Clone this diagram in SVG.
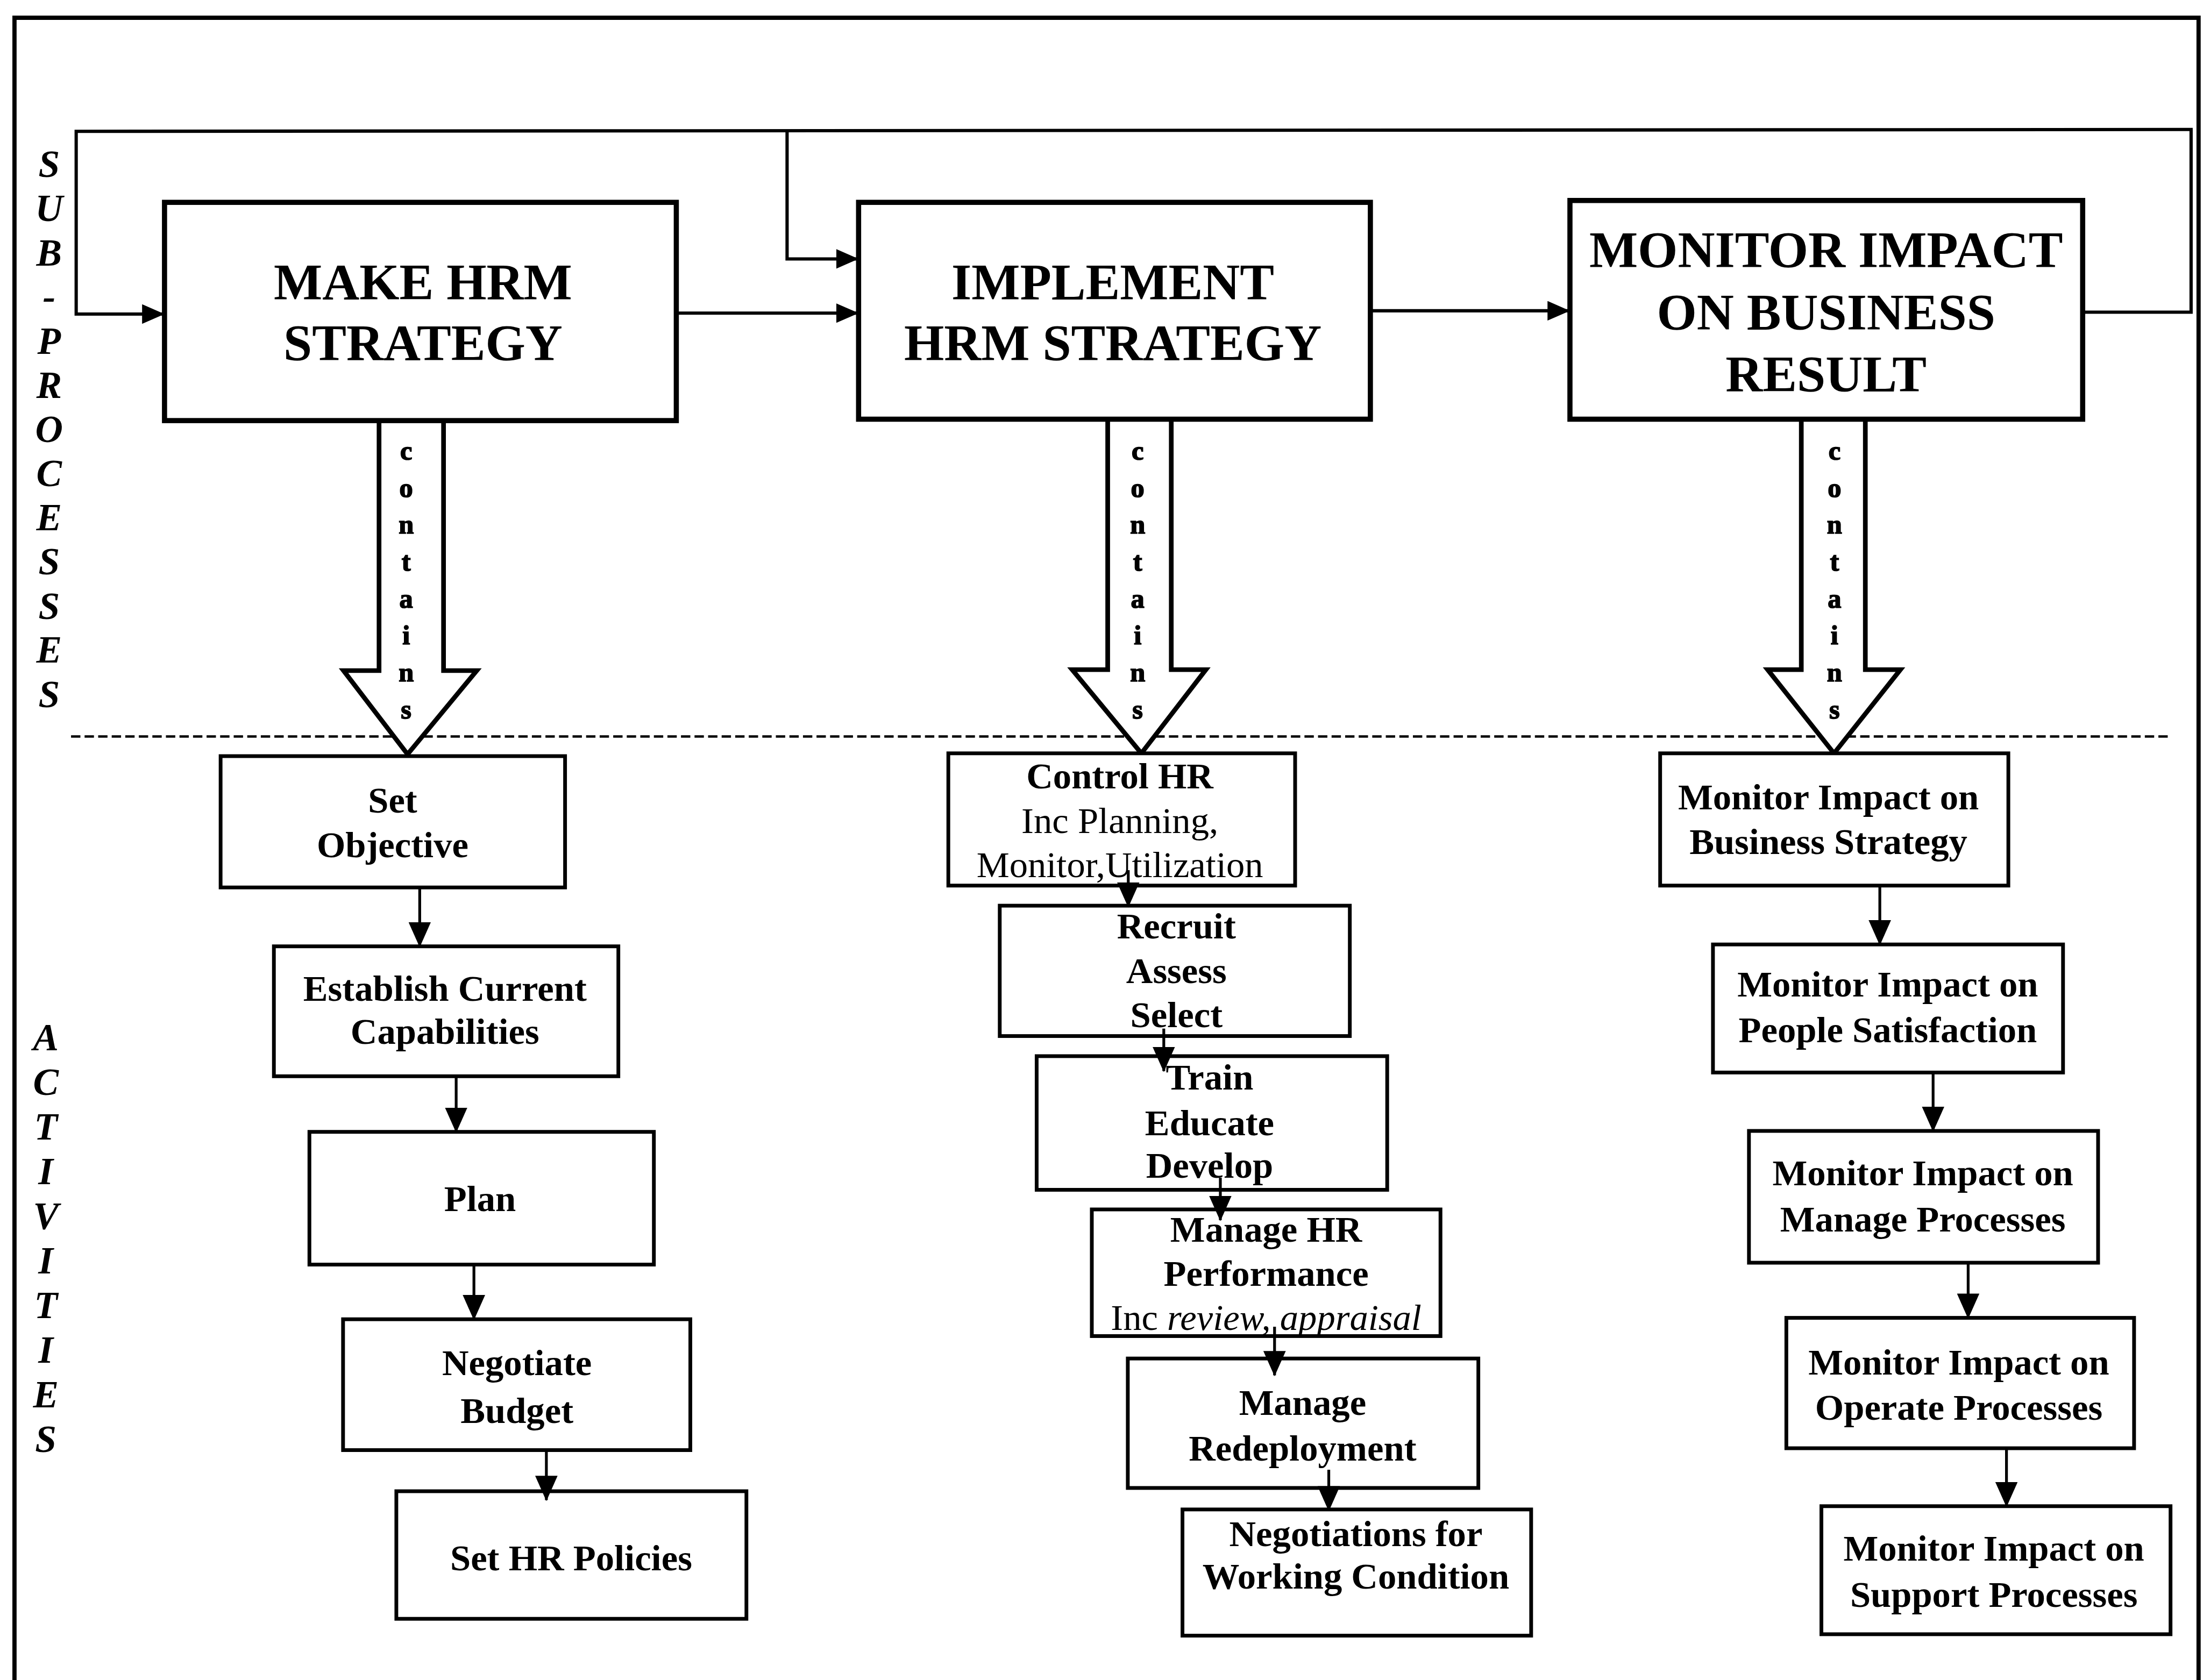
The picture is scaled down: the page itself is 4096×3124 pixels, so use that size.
<svg xmlns="http://www.w3.org/2000/svg" width="4096" height="3124" viewBox="0 0 4096 3124">
  <defs>
    <style>
      .frame { fill: none; stroke: #000; stroke-width: 9; }
      .main { fill: #fff; stroke: #000; stroke-width: 11; }
      .act { fill: #fff; stroke: #000; stroke-width: 8; }
      .wire { fill: none; stroke: #000; stroke-width: 7; }
      .flow { fill: none; stroke: #000; stroke-width: 6; }
      .dash { fill: none; stroke: #000; stroke-width: 5; stroke-dasharray: 20 9; }
      .block { fill: #fff; stroke: #000; stroke-width: 10; stroke-linejoin: miter; }
      .title { font-family: "Liberation Serif", "Times New Roman", serif; font-weight: bold; font-size: 110px; text-anchor: middle; fill: #000; }
      .lbl { font-family: "Liberation Serif", "Times New Roman", serif; font-weight: bold; font-size: 79px; text-anchor: middle; fill: #000; }
      .lblr { font-family: "Liberation Serif", "Times New Roman", serif; font-weight: normal; font-size: 79px; text-anchor: middle; fill: #000; }
      .side { font-family: "Liberation Serif", "Times New Roman", serif; font-weight: bold; font-style: italic; font-size: 82px; text-anchor: middle; fill: #000; }
      .tiny { font-family: "Liberation Serif", "Times New Roman", serif; font-weight: bold; font-size: 58px; text-anchor: middle; fill: #000; stroke: #000; stroke-width: 2; }
    </style>
    <marker id="head" markerUnits="userSpaceOnUse" markerWidth="48" markerHeight="42" viewBox="0 0 48 42" refX="46" refY="21" orient="auto">
      <path d="M0,0 L48,21 L0,42 Z" fill="#000"/>
    </marker>
    <marker id="headSmall" markerUnits="userSpaceOnUse" markerWidth="54" markerHeight="48" viewBox="0 0 54 48" refX="52" refY="24" orient="auto">
      <path d="M0,0 L54,24 L0,48 Z" fill="#000"/>
    </marker>
  </defs>

  <g transform="scale(0.869)">
    <rect x="0" y="0" width="4714" height="3595" fill="#fff"/>

    <!-- outer frame (open at the bottom) -->
    <path class="frame" d="M31,3600 L31,38 L4704,38 L4704,3600"/>

    <!-- side captions -->
    <g id="caption-subprocesses">
      <text class="side" x="105" y="379">S</text>
      <text class="side" x="105" y="473">U</text>
      <text class="side" x="105" y="568">B</text>
      <text class="side" x="105" y="662">-</text>
      <text class="side" x="105" y="757">P</text>
      <text class="side" x="105" y="851">R</text>
      <text class="side" x="105" y="946">O</text>
      <text class="side" x="105" y="1040">C</text>
      <text class="side" x="105" y="1135">E</text>
      <text class="side" x="105" y="1229">S</text>
      <text class="side" x="105" y="1324">S</text>
      <text class="side" x="105" y="1418">E</text>
      <text class="side" x="105" y="1513">S</text>
    </g>
    <g id="caption-activities">
      <text class="side" x="98" y="2247">A</text>
      <text class="side" x="98" y="2343">C</text>
      <text class="side" x="98" y="2438">T</text>
      <text class="side" x="98" y="2534">I</text>
      <text class="side" x="98" y="2629">V</text>
      <text class="side" x="98" y="2725">I</text>
      <text class="side" x="98" y="2821">T</text>
      <text class="side" x="98" y="2916">I</text>
      <text class="side" x="98" y="3012">E</text>
      <text class="side" x="98" y="3107">S</text>
    </g>

    <!-- boundary between sub-processes and activities -->
    <line class="dash" x1="152" y1="1576" x2="4646" y2="1576"/>

    <!-- "contains" block arrows -->
    <g id="contains-make">
      <path class="block" d="M811,900 L811,1435 L735,1435 L872,1614 L1020,1435 L949,1435 L949,900"/>
      <text class="tiny" x="869" y="984">c</text>
      <text class="tiny" x="869" y="1063">o</text>
      <text class="tiny" x="869" y="1142">n</text>
      <text class="tiny" x="869" y="1221">t</text>
      <text class="tiny" x="869" y="1300">a</text>
      <text class="tiny" x="869" y="1379">i</text>
      <text class="tiny" x="869" y="1458">n</text>
      <text class="tiny" x="869" y="1537">s</text>
    </g>
    <g id="contains-implement">
      <path class="block" d="M2370,897 L2370,1433 L2294,1433 L2442,1612 L2580,1433 L2506,1433 L2506,897"/>
      <text class="tiny" x="2434" y="984">c</text>
      <text class="tiny" x="2434" y="1063">o</text>
      <text class="tiny" x="2434" y="1142">n</text>
      <text class="tiny" x="2434" y="1221">t</text>
      <text class="tiny" x="2434" y="1300">a</text>
      <text class="tiny" x="2434" y="1379">i</text>
      <text class="tiny" x="2434" y="1458">n</text>
      <text class="tiny" x="2434" y="1537">s</text>
    </g>
    <g id="contains-monitor">
      <path class="block" d="M3854,897 L3854,1433 L3782,1433 L3924,1612 L4066,1433 L3991,1433 L3991,897"/>
      <text class="tiny" x="3925" y="984">c</text>
      <text class="tiny" x="3925" y="1063">o</text>
      <text class="tiny" x="3925" y="1142">n</text>
      <text class="tiny" x="3925" y="1221">t</text>
      <text class="tiny" x="3925" y="1300">a</text>
      <text class="tiny" x="3925" y="1379">i</text>
      <text class="tiny" x="3925" y="1458">n</text>
      <text class="tiny" x="3925" y="1537">s</text>
    </g>

    <!-- sub-processes -->
    <g id="make-hrm-strategy">
      <rect class="main" x="352" y="433" width="1095" height="467"/>
      <text class="title" x="905" y="641">MAKE HRM</text>
      <text class="title" x="905" y="771">STRATEGY</text>
    </g>
    <g id="implement-hrm-strategy">
      <rect class="main" x="1837" y="433" width="1095" height="464"/>
      <text class="title" x="2381" y="641">IMPLEMENT</text>
      <text class="title" x="2381" y="771">HRM STRATEGY</text>
    </g>
    <g id="monitor-impact">
      <rect class="main" x="3359" y="429" width="1097" height="468"/>
      <text class="title" x="3907" y="572">MONITOR IMPACT</text>
      <text class="title" x="3907" y="705">ON BUSINESS</text>
      <text class="title" x="3907" y="838">RESULT</text>
    </g>

    <!-- activities: make strategy -->
    <g id="set-objective">
      <rect class="act" x="472" y="1618" width="737" height="281"/>
      <text class="lbl" x="840" y="1739">Set</text>
      <text class="lbl" x="840" y="1834">Objective</text>
    </g>
    <g id="establish-capabilities">
      <rect class="act" x="586" y="2025" width="737" height="278"/>
      <text class="lbl" x="952" y="2142">Establish Current</text>
      <text class="lbl" x="952" y="2234">Capabilities</text>
    </g>
    <g id="plan">
      <rect class="act" x="662" y="2422" width="737" height="284"/>
      <text class="lbl" x="1027" y="2592">Plan</text>
    </g>
    <g id="negotiate-budget">
      <rect class="act" x="734" y="2823" width="743" height="280"/>
      <text class="lbl" x="1106" y="2943">Negotiate</text>
      <text class="lbl" x="1106" y="3045">Budget</text>
    </g>
    <g id="set-hr-policies">
      <rect class="act" x="848" y="3191" width="749" height="273"/>
      <text class="lbl" x="1222" y="3360">Set HR Policies</text>
    </g>

    <!-- activities: implement strategy -->
    <g id="control-hr">
      <rect class="act" x="2029" y="1612" width="742" height="283"/>
      <text class="lbl" x="2396" y="1687">Control HR</text>
      <text class="lblr" x="2396" y="1783">Inc Planning,</text>
      <text class="lblr" x="2396" y="1877">Monitor,Utilization</text>
    </g>
    <g id="recruit">
      <rect class="act" x="2139" y="1938" width="749" height="279"/>
      <text class="lbl" x="2517" y="2008">Recruit</text>
      <text class="lbl" x="2517" y="2103">Assess</text>
      <text class="lbl" x="2517" y="2198">Select</text>
    </g>
    <g id="train">
      <rect class="act" x="2218" y="2260" width="750" height="286"/>
      <text class="lbl" x="2588" y="2331">Train</text>
      <text class="lbl" x="2588" y="2429">Educate</text>
      <text class="lbl" x="2588" y="2520">Develop</text>
    </g>
    <g id="manage-hr-performance">
      <rect class="act" x="2336" y="2588" width="746" height="271"/>
      <text class="lbl" x="2709" y="2657">Manage HR</text>
      <text class="lbl" x="2709" y="2751">Performance</text>
      <text class="lblr" x="2709" y="2846">Inc <tspan font-style="italic">review, appraisal</tspan></text>
    </g>
    <g id="manage-redeployment">
      <rect class="act" x="2413" y="2907" width="750" height="277"/>
      <text class="lbl" x="2787" y="3028">Manage</text>
      <text class="lbl" x="2787" y="3126">Redeployment</text>
    </g>
    <g id="negotiations">
      <rect class="act" x="2530" y="3230" width="746" height="270"/>
      <text class="lbl" x="2901" y="3308">Negotiations for</text>
      <text class="lbl" x="2901" y="3399">Working Condition</text>
    </g>

    <!-- activities: monitor impact -->
    <g id="impact-business-strategy">
      <rect class="act" x="3552" y="1612" width="745" height="283"/>
      <text class="lbl" x="3912" y="1732">Monitor Impact on</text>
      <text class="lbl" x="3912" y="1827">Business Strategy</text>
    </g>
    <g id="impact-people-satisfaction">
      <rect class="act" x="3665" y="2021" width="749" height="274"/>
      <text class="lbl" x="4039" y="2132">Monitor Impact on</text>
      <text class="lbl" x="4039" y="2230">People Satisfaction</text>
    </g>
    <g id="impact-manage-processes">
      <rect class="act" x="3742" y="2420" width="747" height="282"/>
      <text class="lbl" x="4114" y="2536">Monitor Impact on</text>
      <text class="lbl" x="4114" y="2635">Manage Processes</text>
    </g>
    <g id="impact-operate-processes">
      <rect class="act" x="3822" y="2820" width="744" height="279"/>
      <text class="lbl" x="4191" y="2941">Monitor Impact on</text>
      <text class="lbl" x="4191" y="3038">Operate Processes</text>
    </g>
    <g id="impact-support-processes">
      <rect class="act" x="3897" y="3223" width="747" height="274"/>
      <text class="lbl" x="4266" y="3340">Monitor Impact on</text>
      <text class="lbl" x="4266" y="3438">Support Processes</text>
    </g>

    <!-- connectors, drawn over the boxes -->
    <g id="connectors">
      <!-- feedback loop from the result back to strategy making -->
      <path class="wire" d="M4456,668 L4688,668 L4688,277 L163,281 L163,672 L350,672" marker-end="url(#head)"/>
      <path class="wire" d="M1684,279 L1684,554 L1835,554" marker-end="url(#head)"/>
      <path class="wire" d="M1447,670 L1835,670" marker-end="url(#head)"/>
      <path class="wire" d="M2932,665 L3357,665" marker-end="url(#head)"/>

      <!-- activity sequences -->
      <path class="flow" d="M898,1899 L898,2025" marker-end="url(#headSmall)"/>
      <path class="flow" d="M976,2303 L976,2422" marker-end="url(#headSmall)"/>
      <path class="flow" d="M1014,2706 L1014,2823" marker-end="url(#headSmall)"/>
      <path class="flow" d="M1169,3103 L1169,3210" marker-end="url(#headSmall)"/>

      <path class="flow" d="M2414,1862 L2414,1940" marker-end="url(#headSmall)"/>
      <path class="flow" d="M2490,2201 L2490,2292" marker-end="url(#headSmall)"/>
      <path class="flow" d="M2611,2520 L2611,2611" marker-end="url(#headSmall)"/>
      <path class="flow" d="M2727,2839 L2727,2943" marker-end="url(#headSmall)"/>
      <path class="flow" d="M2843,3145 L2843,3232" marker-end="url(#headSmall)"/>

      <path class="flow" d="M4022,1895 L4022,2021" marker-end="url(#headSmall)"/>
      <path class="flow" d="M4136,2295 L4136,2420" marker-end="url(#headSmall)"/>
      <path class="flow" d="M4211,2702 L4211,2820" marker-end="url(#headSmall)"/>
      <path class="flow" d="M4293,3099 L4293,3223" marker-end="url(#headSmall)"/>
    </g>
  </g>
</svg>
